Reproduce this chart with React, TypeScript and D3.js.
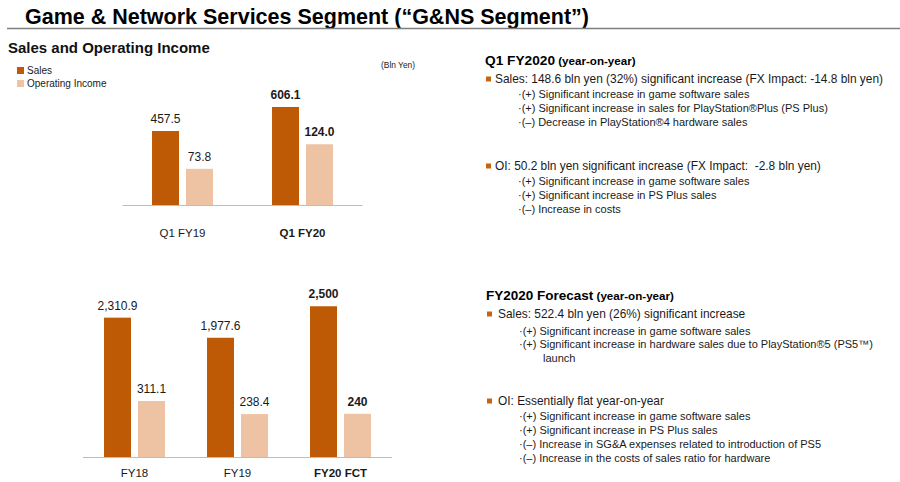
import React from "react";
import * as d3 from "d3";

// ---------- data ----------
const seriesKeys = ["Sales", "Operating Income"];
const seriesColors = ["#BE5A06", "#EEC3A3"];

const topCategories = ["Q1 FY19", "Q1 FY20"];
const topSales = [457.5, 606.1];
const topOI = [73.8, 124.0];
const topBold = [false, true];

const bottomCategories = ["FY18", "FY19", "FY20 FCT"];
const bottomSales = [2310.9, 1977.6, 2500];
const bottomOI = [311.1, 238.4, 240];
const bottomBold = [false, false, true];
const bottomIsForecast = [false, false, true];

const titleText = "Game & Network Services Segment (\u201CG&NS Segment\u201D)";
const subtitleText = "Sales and Operating Income";
const unitText = "(Bln Yen)";

const q1Heading = "Q1 FY2020";
const q1SalesBullet = "Sales: 148.6 bln yen (32%) significant increase (FX Impact: -14.8 bln yen)";
const q1SalesItems = [
  "\u00B7(+) Significant increase in game software sales",
  "\u00B7(+) Significant increase in sales for PlayStation\u00AEPlus (PS Plus)",
  "\u00B7(\u2013) Decrease in PlayStation\u00AE4 hardware sales",
];
const q1OIBullet = "OI: 50.2 bln yen significant increase (FX Impact:  -2.8 bln yen)";
const q1OIItems = [
  "\u00B7(+) Significant increase in game software sales",
  "\u00B7(+) Significant increase in PS Plus sales",
  "\u00B7(\u2013) Increase in costs",
];

const fcHeading = "FY2020 Forecast";
const fcSalesBullet = "Sales: 522.4 bln yen (26%) significant increase";
const fcSalesItems = [
  "\u00B7(+) Significant increase in game software sales",
  "\u00B7(+) Significant increase in hardware sales due to PlayStation\u00AE5 (PS5\u2122)",
];
const fcSalesCont = "launch";
const fcOIBullet = "OI: Essentially flat year-on-year";
const fcOIItems = [
  "\u00B7(+) Significant increase in game software sales",
  "\u00B7(+) Significant increase in PS Plus sales",
  "\u00B7(\u2013) Increase in SG&A expenses related to introduction of PS5",
  "\u00B7(\u2013) Increase in the costs of sales ratio for hardware",
];
const yoyText = " (year-on-year)";

const FONT = "'Liberation Sans', Arial, Helvetica, sans-serif";
const TEXT = "#1a1a1a";

type ChartProps = {
  categories: string[];
  sales: number[];
  oi: number[];
  bold: boolean[];
  forecast?: boolean[];
  x0: number;
  x1: number;
  baseY: number;
  salesMax: number;
  salesPx: number;
  oiMax: number;
  oiPx: number;
  paddingInner: number;
  catLabelY: number;
  fontSize: number;
};

function BarGroup(p: ChartProps) {
  const outer = d3
    .scaleBand<string>()
    .domain(p.categories)
    .range([p.x0, p.x1])
    .paddingInner(p.paddingInner)
    .paddingOuter(p.paddingInner / 2);
  const inner = d3
    .scaleBand<string>()
    .domain(seriesKeys)
    .range([0, outer.bandwidth()])
    .paddingInner(0.206);
  const ySales = d3.scaleLinear().domain([0, p.salesMax]).range([p.baseY, p.baseY - p.salesPx]);
  const yOI = d3.scaleLinear().domain([0, p.oiMax]).range([p.baseY, p.baseY - p.oiPx]);
  const fmt1 = d3.format(",.1f");
  const fmt0 = d3.format(",");
  return (
    <g>
      <line x1={p.x0} x2={p.x1} y1={p.baseY + 0.5} y2={p.baseY + 0.5} stroke="#bdbdbd" strokeWidth={1.2} />
      {p.categories.map((c, i) => {
        const gx = outer(c)!;
        const vals = [p.sales[i], p.oi[i]];
        const scales = [ySales, yOI];
        const isF = p.forecast ? p.forecast[i] : false;
        return (
          <g key={c}>
            {seriesKeys.map((k, j) => {
              const bx = gx + inner(k)!;
              const by = scales[j](vals[j]);
              return (
                <g key={k}>
                  <rect x={bx} y={by} width={inner.bandwidth()} height={p.baseY - by} fill={seriesColors[j]} />
                  <text
                    x={bx + inner.bandwidth() / 2}
                    y={by - 8}
                    textAnchor="middle"
                    fontSize={p.fontSize}
                    fontWeight={p.bold[i] ? "bold" : "normal"}
                    fill={TEXT}
                  >
                    {isF ? fmt0(vals[j]) : fmt1(vals[j])}
                  </text>
                </g>
              );
            })}
            <text
              x={gx + outer.bandwidth() / 2}
              y={p.catLabelY}
              textAnchor="middle"
              fontSize={11.5}
              fontWeight={p.bold[i] ? "bold" : "normal"}
              fill={TEXT}
            >
              {c}
            </text>
          </g>
        );
      })}
    </g>
  );
}

function Bullet({ x, y, text, textX }: { x: number; y: number; text: string; textX: number }) {
  return (
    <g>
      <rect x={x} y={y - 6.5} width={5} height={5} fill="#C8640F" />
      <text x={textX} y={y} fontSize={11.9} fill={TEXT} style={{ whiteSpace: "pre" }}>
        {text}
      </text>
    </g>
  );
}

function Items({ x, ys, items }: { x: number; ys: number[]; items: string[] }) {
  return (
    <g>
      {items.map((t, i) => (
        <text key={i} x={x} y={ys[i]} fontSize={11} fill={TEXT}>
          {t}
        </text>
      ))}
    </g>
  );
}

export default function App() {
  return (
    <svg
      width={900}
      height={482}
      viewBox="0 0 900 482"
      style={{ position: "absolute", left: 0, top: 0, background: "#fff" }}
      fontFamily={FONT}
    >
      <rect x={0} y={0} width={900} height={482} fill="#fff" />
      {/* Title */}
      <text x={25} y={24} fontSize={21.5} fontWeight="bold" fill="#000">
        {titleText}
      </text>
      <line x1={7} x2={900} y1={28.5} y2={28.5} stroke="#7f7f7f" strokeWidth={1.5} />

      {/* Left: subtitle + legend */}
      <text x={8} y={53} fontSize={15} fontWeight="bold" fill="#111">
        {subtitleText}
      </text>
      {seriesKeys.map((k, i) => (
        <g key={k}>
          <rect x={17} y={67 + i * 13} width={7} height={7} fill={seriesColors[i]} />
          <text x={27} y={74 + i * 13} fontSize={10} fill={TEXT}>
            {k}
          </text>
        </g>
      ))}
      <text x={381} y={68} fontSize={8.4} fill={TEXT}>
        {unitText}
      </text>

      <BarGroup
        categories={topCategories}
        sales={topSales}
        oi={topOI}
        bold={topBold}
        x0={122.5}
        x1={362.5}
        baseY={205}
        salesMax={700}
        salesPx={113.2}
        oiMax={200}
        oiPx={98}
        paddingInner={0.492}
        catLabelY={237}
        fontSize={12}
      />
      <BarGroup
        categories={bottomCategories}
        sales={bottomSales}
        oi={bottomOI}
        bold={bottomBold}
        forecast={bottomIsForecast}
        x0={83}
        x1={392}
        baseY={457}
        salesMax={3000}
        salesPx={180.9}
        oiMax={500}
        oiPx={90}
        paddingInner={0.408}
        catLabelY={477}
        fontSize={12}
      />

      {/* Right: Q1 FY2020 */}
      <text x={485} y={65} fill="#000" fontWeight="bold">
        <tspan fontSize={13.7}>{q1Heading}</tspan>
        <tspan fontSize={11.6} style={{ whiteSpace: "pre" }}>{yoyText}</tspan>
      </text>
      <Bullet x={486} y={83} textX={495} text={q1SalesBullet} />
      <Items x={518} ys={[98, 112, 126]} items={q1SalesItems} />
      <Bullet x={486} y={170} textX={495} text={q1OIBullet} />
      <Items x={518} ys={[185, 199, 213]} items={q1OIItems} />

      {/* Right: FY2020 Forecast */}
      <text x={486} y={300} fill="#000" fontWeight="bold">
        <tspan fontSize={13.5}>{fcHeading}</tspan>
        <tspan fontSize={11.6} style={{ whiteSpace: "pre" }}>{yoyText}</tspan>
      </text>
      <Bullet x={487} y={318} textX={498} text={fcSalesBullet} />
      <Items x={519} ys={[335, 348]} items={fcSalesItems} />
      <text x={543} y={362} fontSize={11} fill={TEXT}>
        {fcSalesCont}
      </text>
      <Bullet x={487} y={405} textX={498} text={fcOIBullet} />
      <Items x={519} ys={[420, 434, 448, 462]} items={fcOIItems} />
    </svg>
  );
}
